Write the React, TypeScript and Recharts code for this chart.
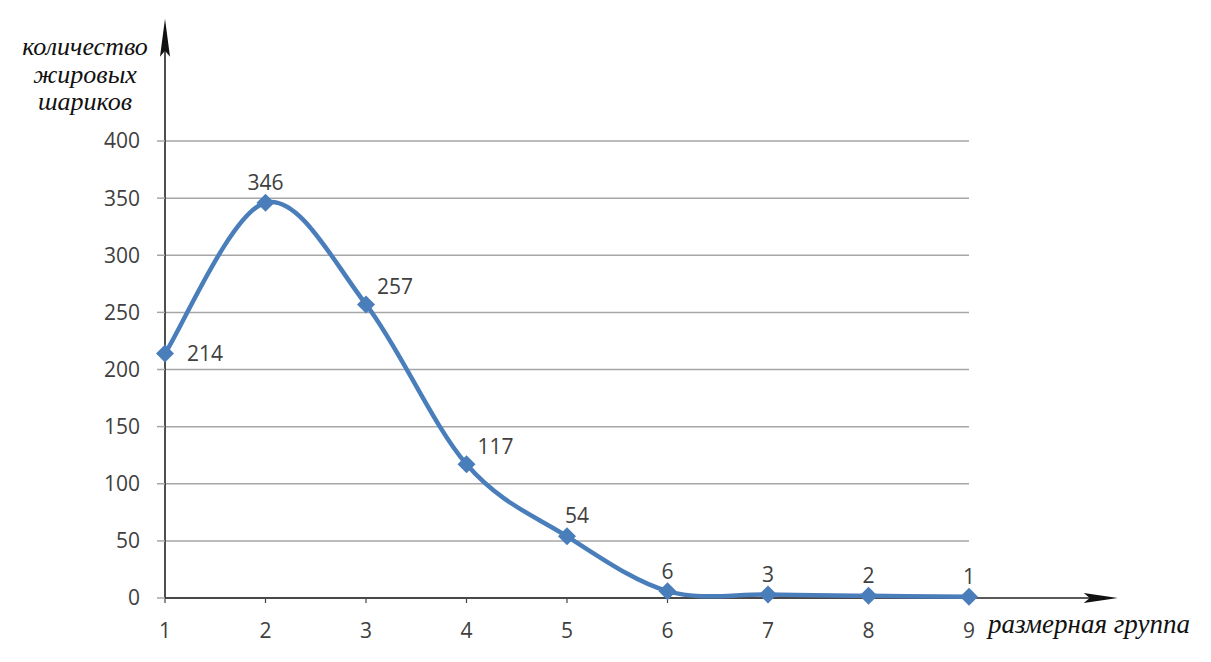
import React from "react"
import {
  CartesianGrid,
  LabelList,
  Line,
  LineChart,
  ReferenceLine,
  XAxis,
  YAxis,
} from "recharts"

const groups = [1, 2, 3, 4, 5, 6, 7, 8, 9]
const counts = [214, 346, 257, 117, 54, 6, 3, 2, 1]
const yTicks = [0, 50, 100, 150, 200, 250, 300, 350, 400]
const yTitle = ["количество", "жировых", "шариков"]
const xTitle = "размерная группа"

const data = groups.map((g, i) => ({ group: g, count: counts[i] }))

const LINE = "#4a7ebb"
const TEXT = "#404040"
const FONT = "'Open Sans', sans-serif"

// Excel-style smoothing (Catmull-Rom through every point)
function smoothCurve(context: any) {
  let pts: [number, number][] = []
  return {
    areaStart() {},
    areaEnd() {},
    lineStart() {
      pts = []
    },
    point(x: number, y: number) {
      pts.push([x, y])
    },
    lineEnd() {
      if (!pts.length) return
      context.moveTo(pts[0][0], pts[0][1])
      for (let i = 0; i < pts.length - 1; i++) {
        const p0 = pts[Math.max(i - 1, 0)]
        const p1 = pts[i]
        const p2 = pts[i + 1]
        const p3 = pts[Math.min(i + 2, pts.length - 1)]
        context.bezierCurveTo(
          p1[0] + (p2[0] - p0[0]) / 6,
          p1[1] + (p2[1] - p0[1]) / 6,
          p2[0] - (p3[0] - p1[0]) / 6,
          p2[1] - (p3[1] - p1[1]) / 6,
          p2[0],
          p2[1]
        )
      }
    },
  }
}

const Diamond = (props: any) => {
  const { cx, cy } = props
  if (cx == null || cy == null) return null
  const r = 9
  return (
    <polygon
      points={`${cx},${cy - r} ${cx + r},${cy} ${cx},${cy + r} ${cx - r},${cy}`}
      fill={LINE}
    />
  )
}

const PointLabel = (props: any) => {
  const { x, y, value, index } = props
  let dx = 0
  let dy = -20
  let anchor: "start" | "middle" = "middle"
  if (index === 0) {
    dx = 22
    dy = 0
    anchor = "start"
  } else if (index === 2 || index === 3) {
    dx = 11
    dy = -18
    anchor = "start"
  } else if (index === 4) {
    dx = -2
    dy = -21
    anchor = "start"
  }
  return (
    <text
      x={x + dx}
      y={y + dy}
      dy="0.355em"
      textAnchor={anchor}
      fill={TEXT}
      fontSize={21}
      fontFamily={FONT}
    >
      {value}
    </text>
  )
}

const Arrow = (props: any) => {
  const { x1, y1, x2, y2 } = props
  const vertical = Math.abs(x2 - x1) < 1
  const half = 5
  if (vertical) {
    const len = 38
    const tipY = Math.min(y1, y2)
    const baseY = Math.max(y1, y2)
    const head = `${x1},${tipY} ${x1 + half},${tipY + len} ${x1},${tipY + len - 6} ${x1 - half},${tipY + len}`
    return (
      <g>
        <line x1={x1} y1={baseY} x2={x1} y2={tipY + 10} stroke="#222" strokeWidth={1.6} />
        <polygon points={head} fill="#111" />
      </g>
    )
  }
  const len = 34
  const tipX = Math.max(x1, x2)
  const baseX = Math.min(x1, x2)
  const head = `${tipX},${y1} ${tipX - len},${y1 - half} ${tipX - len + 6},${y1} ${tipX - len},${y1 + half}`
  return (
    <g>
      <line x1={baseX} y1={y1} x2={tipX - 10} y2={y1} stroke="#222" strokeWidth={1.6} />
      <polygon points={head} fill="#111" />
    </g>
  )
}

export default function App() {
  return (
    <div
      style={{
        position: "absolute",
        left: 0,
        top: 0,
        width: 1211,
        height: 662,
        background: "#fff",
      }}
    >
      <LineChart
        width={1211}
        height={662}
        data={data}
        margin={{ top: 141, right: 242, bottom: 14, left: 105 }}
      >
        <CartesianGrid vertical={false} stroke="#a6a6a6" strokeWidth={1.5} />
        <XAxis
          dataKey="group"
          type="number"
          domain={[1, 9]}
          ticks={groups}
          height={50}
          axisLine={false}
          tickLine={{ stroke: "#444", strokeWidth: 1.2 }}
          tickSize={5}
          tickMargin={20}
          tick={{ fill: TEXT, fontSize: 21, fontFamily: FONT }}
        />
        <YAxis
          domain={[0, 400]}
          ticks={yTicks}
          width={60}
          axisLine={false}
          tickLine={{ stroke: "#a6a6a6", strokeWidth: 1.5 }}
          tickSize={8}
          tickMargin={17}
          tick={{ fill: TEXT, fontSize: 21, fontFamily: FONT }}
        />
        <ReferenceLine
          segment={[
            { x: 1, y: 0 },
            { x: 1, y: 507 },
          ]}
          ifOverflow="visible"
          shape={Arrow}
        />
        <ReferenceLine
          segment={[
            { x: 1, y: 0 },
            { x: 10.48, y: 0 },
          ]}
          ifOverflow="visible"
          shape={Arrow}
        />
        <Line
          dataKey="count"
          type={smoothCurve as any}
          stroke={LINE}
          strokeWidth={4.5}
          dot={<Diamond />}
          activeDot={false}
          isAnimationActive={false}
        >
          <LabelList dataKey="count" content={<PointLabel />} />
        </Line>
      </LineChart>
      <div
        style={{
          position: "absolute",
          left: 0,
          top: 33,
          width: 170,
          textAlign: "center",
          fontFamily: "'Liberation Serif', serif",
          fontStyle: "italic",
          fontSize: 26,
          lineHeight: "27.5px",
          color: "#111",
        }}
      >
        {yTitle.map((t) => (
          <div key={t}>{t}</div>
        ))}
      </div>
      <div
        style={{
          position: "absolute",
          left: 988,
          top: 611,
          fontFamily: "'Liberation Serif', serif",
          fontStyle: "italic",
          fontSize: 27,
          lineHeight: "27px",
          color: "#111",
          whiteSpace: "nowrap",
        }}
      >
        {xTitle}
      </div>
    </div>
  )
}
